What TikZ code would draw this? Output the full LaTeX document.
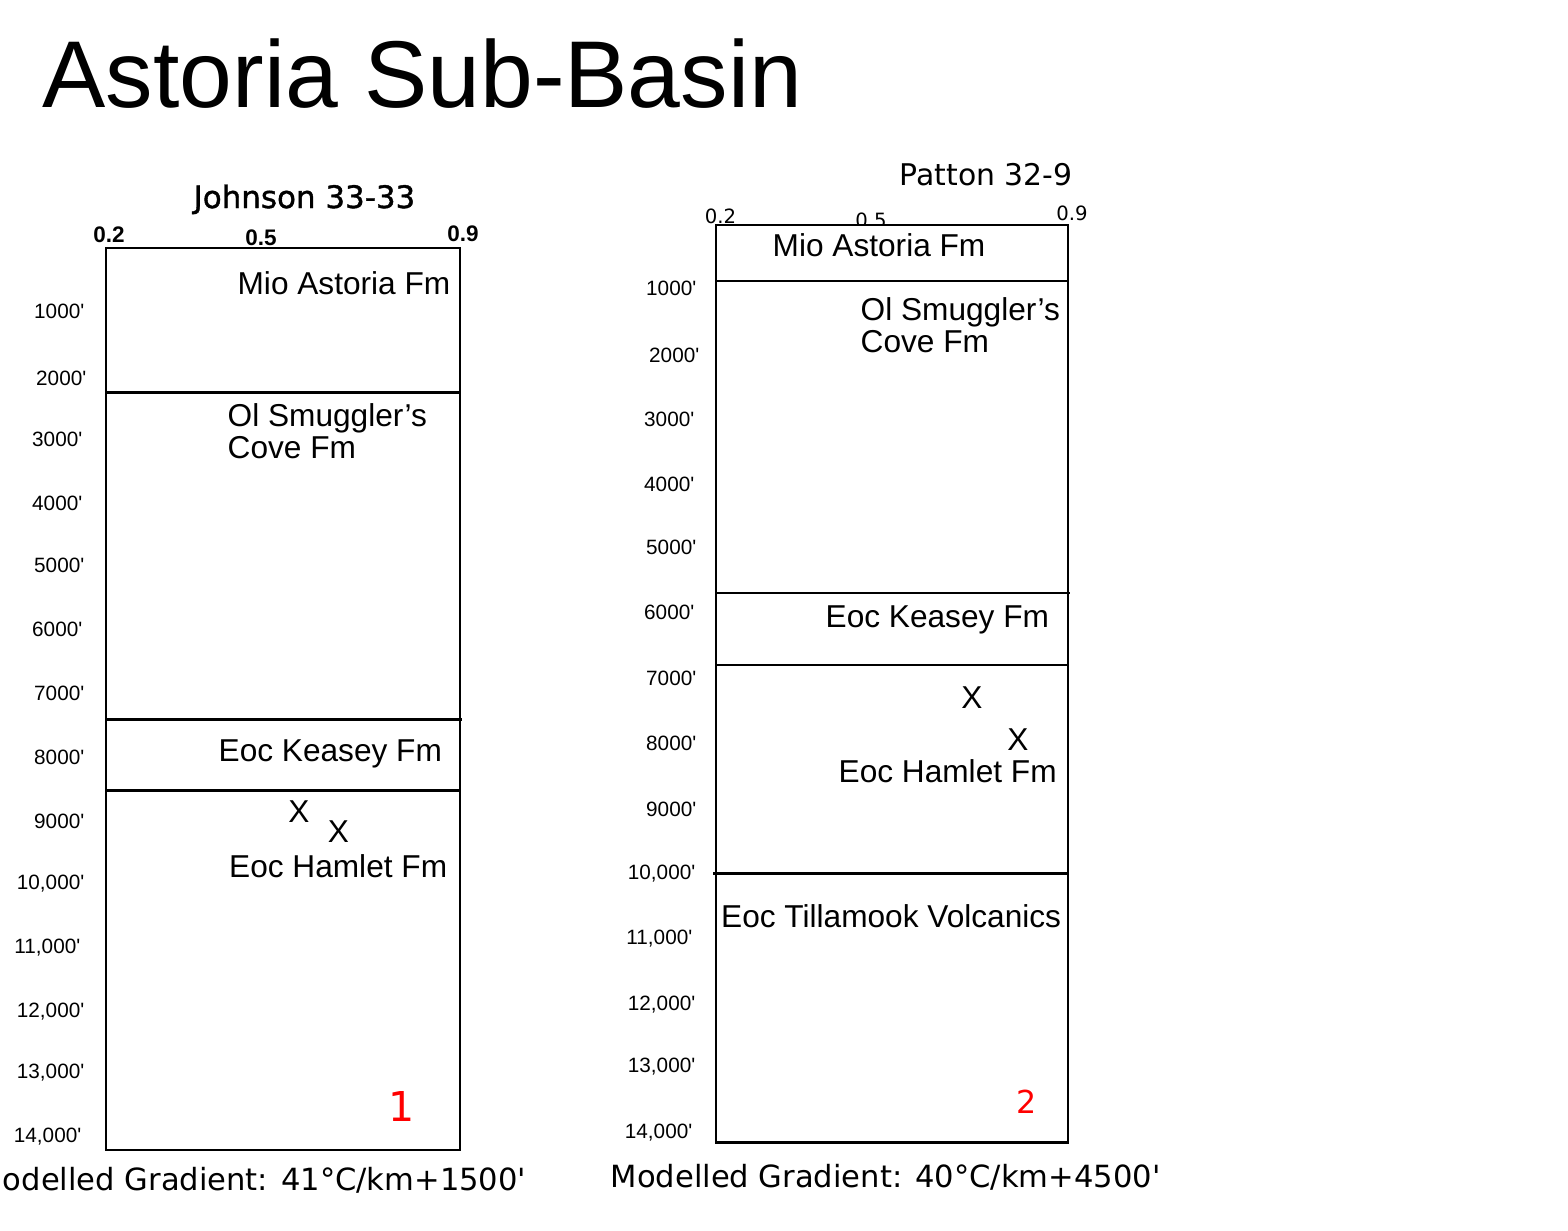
\documentclass[tikz,border=0pt]{standalone}
\usepackage{fontspec}
\setmainfont{Liberation Sans}
\newfontfamily\lucida{DejaVu Sans}
\newfontfamily\lucidaheavy[FakeBold=1.2]{DejaVu Sans}
\usepackage{xcolor}
\usepackage{tikz}
\newcommand{\ft}{\textquotesingle}

\begin{document}
\begin{tikzpicture}[
					% Picture Styling
					x=0.1mm, y=-0.1mm,
					title/.style={anchor=base west, inner sep=0pt, font=\fontsize{27}{32}\selectfont},
					well/.style={anchor=base west, inner sep=0pt, font=\lucida\fontsize{8.8}{10}\selectfont},
					depth/.style={anchor=base east, inner sep=0pt, font=\fontsize{5.9}{6}\selectfont},
					tickleft/.style={anchor=base, inner sep=0pt, font=\bfseries\fontsize{6.4}{7}\selectfont},
					tickright/.style={anchor=base, inner sep=0pt, font=\lucida\fontsize{5.6}{7}\selectfont},
					unit/.style={inner sep=0pt, align=left, font=\fontsize{9}{9}\selectfont},
					column/.style={draw, fill=white, line width=0.7pt},
					contact/.style={line width=0.7pt},
					sample/.style={anchor=base, inner sep=0pt, text=red},
					gradient/.style={inner sep=0pt, font=\lucida\fontsize{8.7}{10}\selectfont}
				]
				\useasboundingbox (0,0) rectangle (1568,1230);
				\clip (0,0) rectangle (1568,1230);
				% Titulos
				\node[title] (basin) at (42,107) {Astoria Sub-Basin};
				\node[well, font=\lucidaheavy\fontsize{8.8}{10}\selectfont] (johnson) at (193,208) {Johnson 33-33};
				\node[well, font=\lucida\fontsize{8.5}{10}\selectfont] (patton) at (899,185) {Patton 32-9};
				% Escalas
				\node[tickleft] (jA) at (109,242) {0.2};
				\node[tickleft] (jB) at (261,245) {0.5};
				\node[tickleft] (jC) at (463,241) {0.9};
				\node[tickright] (pA) at (720.5,223.3) {0.2};
				\node[tickright] (pB) at (871,227.5) {0.5};
				\node[tickright] (pC) at (1072,220.7) {0.9};
				% Columnas
				\draw[column] (106,248) rectangle (460,1150);
				\draw[column] (716,225) rectangle (1068,1142.5);
				\draw[contact] (106,392.5) -- (460,392.5);
				\draw[contact] (106,719.5) -- (462,719.5);
				\draw[contact] (106,790.5) -- (460,790.5);
				\draw[contact] (716,281) -- (1068,281);
				\draw[contact] (716,593) -- (1070,593);
				\draw[contact] (716,665) -- (1068,665);
				\draw[contact] (713,873.5) -- (1068,873.5);
				% Profundidades Johnson
				\node[depth] (jd1) at (85,318) {1000\ft};
				\node[depth] (jd2) at (87,385) {2000\ft};
				\node[depth] (jd3) at (83,446) {3000\ft};
				\node[depth] (jd4) at (83,510) {4000\ft};
				\node[depth] (jd5) at (85,572) {5000\ft};
				\node[depth] (jd6) at (83,636) {6000\ft};
				\node[depth] (jd7) at (85,700) {7000\ft};
				\node[depth] (jd8) at (85,764) {8000\ft};
				\node[depth] (jd9) at (85,828) {9000\ft};
				\node[depth] (jd10) at (85,889) {10,000\ft};
				\node[depth] (jd11) at (81,953) {11,000\ft};
				\node[depth] (jd12) at (85,1017) {12,000\ft};
				\node[depth] (jd13) at (85,1078) {13,000\ft};
				\node[depth] (jd14) at (82,1142) {14,000\ft};
				% Profundidades Patton
				\node[depth] (pd1) at (697,295) {1000\ft};
				\node[depth] (pd2) at (700,362) {2000\ft};
				\node[depth] (pd3) at (695,426) {3000\ft};
				\node[depth] (pd4) at (695,491) {4000\ft};
				\node[depth] (pd5) at (697,554) {5000\ft};
				\node[depth] (pd6) at (695,619) {6000\ft};
				\node[depth] (pd7) at (697,685) {7000\ft};
				\node[depth] (pd8) at (697,750) {8000\ft};
				\node[depth] (pd9) at (697,816) {9000\ft};
				\node[depth] (pd10) at (696,879) {10,000\ft};
				\node[depth] (pd11) at (693,944) {11,000\ft};
				\node[depth] (pd12) at (696,1010) {12,000\ft};
				\node[depth] (pd13) at (696,1072) {13,000\ft};
				\node[depth] (pd14) at (693,1138) {14,000\ft};
				% Formaciones Johnson
				\node[unit, anchor=base east] (mioJ) at (451,294) {Mio Astoria Fm};
				\node[unit, anchor=north west] (smugJ) at (227,403) {Ol Smuggler’s\\Cove Fm};
				\node[unit, anchor=base west] (keaseyJ) at (218,761) {Eoc Keasey Fm};
				\node[unit, anchor=base] (xJ1) at (299,822) {X};
				\node[unit, anchor=base] (xJ2) at (338.5,842) {X};
				\node[unit, anchor=base west] (hamletJ) at (228.5,877) {Eoc Hamlet Fm};
				\node[sample, font=\lucida\fontsize{11.7}{12}\selectfont] (numJ) at (401.5,1121) {1};
				% Formaciones Patton
				\node[unit, anchor=base west] (mioP) at (772,256) {Mio Astoria Fm};
				\node[unit, anchor=north west] (smugP) at (860,297) {Ol Smuggler’s\\Cove Fm};
				\node[unit, anchor=base west] (keaseyP) at (825,627) {Eoc Keasey Fm};
				\node[unit, anchor=base] (xP1) at (972,708) {X};
				\node[unit, anchor=base] (xP2) at (1018,750) {X};
				\node[unit, anchor=base west] (hamletP) at (838,782) {Eoc Hamlet Fm};
				\node[unit, anchor=base west] (tillaP) at (720.5,927) {Eoc Tillamook Volcanics};
				\node[sample, font=\lucida\fontsize{9}{10}\selectfont] (numP) at (1026.5,1113) {2};
				% Gradientes
				\node[gradient, anchor=base east] (gradJ) at (527,1190) {Modelled Gradient: 41°C/km+1500\ft};
				\node[gradient, anchor=base west] (gradP) at (610,1187) {Modelled Gradient: 40°C/km+4500\ft};
			\end{tikzpicture}
\end{document}
